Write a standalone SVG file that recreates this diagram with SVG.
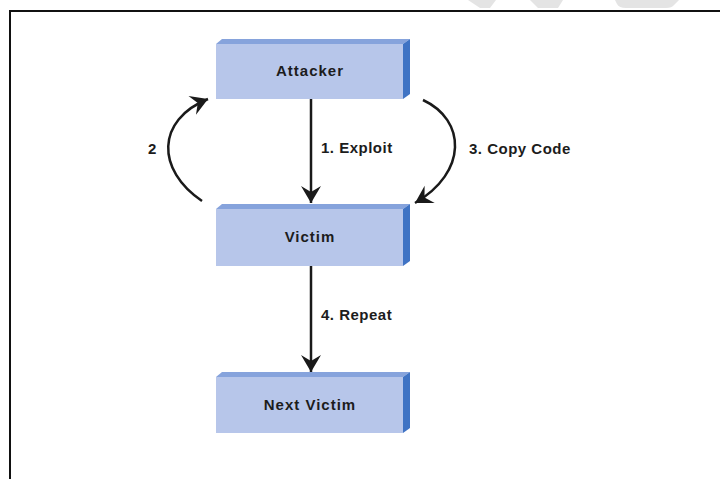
<svg xmlns="http://www.w3.org/2000/svg" width="720" height="479" viewBox="0 0 720 479">
  <style>
    .front { fill: #b7c6ea; }
    .top { fill: #86a3dc; }
    .side { fill: #3f73c4; }
    .name { font-family: "Liberation Sans", Arial, sans-serif; font-weight: bold; font-size: 15px; letter-spacing: 1px; fill: #1c1c1c; text-anchor: middle; }
    .label { font-family: "Liberation Sans", Arial, sans-serif; font-weight: bold; font-size: 15px; letter-spacing: 0.5px; fill: #1c1c1c; }
    .wire { fill: none; stroke: #1a1a1a; stroke-width: 2.5; marker-end: url(#barb); }
  </style>
  <defs>
    <marker id="barb" markerUnits="userSpaceOnUse" markerWidth="20" markerHeight="22" refX="18" refY="11" orient="auto" viewBox="0 0 20 22">
      <path d="M18 11 L1 1 L7 11 L1 21 Z" fill="#1a1a1a"/>
    </marker>
  </defs>

  <rect width="720" height="479" fill="#ffffff"/>

  <!-- faint shapes along the top edge -->
  <g fill="#e4e4e4">
    <polygon points="468,0 496,0 490,8 480,8"/>
    <polygon points="530,0 563,0 558,8 538,8"/>
    <path d="M615 0 H679 L674 5 Q672 8 666 8 H626 Q619 8 617 4 Z"/>
  </g>

  <!-- frame -->
  <path d="M10 479 V11 H720" fill="none" stroke="#111111" stroke-width="2"/>

  <g id="attacker">
    <polygon class="top" points="216,44 222,39 410,39 403,44"/>
    <polygon class="side" points="403,44 410,39 410,94 403,99"/>
    <rect class="front" x="216" y="44" width="187" height="55"/>
    <text class="name" x="310" y="76">Attacker</text>
  </g>

  <g id="victim">
    <polygon class="top" points="216,209 222,204 410,204 403,209"/>
    <polygon class="side" points="403,209 410,204 410,261 403,266"/>
    <rect class="front" x="216" y="209" width="187" height="57"/>
    <text class="name" x="310" y="242">Victim</text>
  </g>

  <g id="next-victim">
    <polygon class="top" points="216,377 222,372 410,372 403,377"/>
    <polygon class="side" points="403,377 410,372 410,428 403,433"/>
    <rect class="front" x="216" y="377" width="187" height="56"/>
    <text class="name" x="310" y="410">Next Victim</text>
  </g>

  <g id="connectors">
    <path class="wire" d="M311 99 V203"/>
    <path class="wire" d="M311 266 V372"/>
    <path class="wire" d="M202 201 C156 170, 156 120, 208 99"/>
    <path class="wire" d="M423 100 C466 120, 468 172, 415 203"/>
  </g>

  <g id="labels">
    <text class="label" x="321" y="153">1. Exploit</text>
    <text class="label" x="148" y="154">2</text>
    <text class="label" x="469" y="154">3. Copy Code</text>
    <text class="label" x="321" y="320">4. Repeat</text>
  </g>
</svg>
